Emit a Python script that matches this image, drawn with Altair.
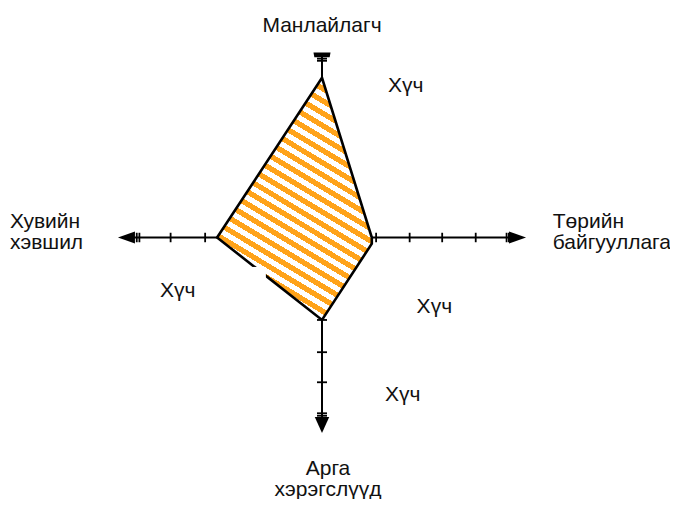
import math
import altair as alt
import pandas as pd

# ---------------- data (axis units) ----------------
# kite-shaped profile: x position, upper edge, lower edge
poly_x = [-3.16, 0.0, 1.5]
poly_upper = [0.0, 5.15, 0.0]
poly_lower = [0.0, -2.66, -0.2]

# axis line extents
h_axis = [-5.89, 5.89]
v_axis = [5.89, -6.05]

# tick positions
x_ticks = [-5.58, -5.50, -4.56, -3.52, 1.63, 2.64, 3.62, 4.63, 5.56, 5.63]
y_ticks = [5.77, 5.70, -2.66, -3.70, -4.67, -5.67, -5.75]

# arrow heads
arrow_kind = ["left", "right", "down", "cap"]
arrow_x = [-5.89, 5.89, 0.0, 0.0]
arrow_y = [0.0, 0.0, -6.05, 5.89]

# white patch over the lower-left edge
mask_x = [-2.6, -1.69]
mask_y = [-0.95, -1.4]

# labels
center_text = ["Манлайлагч", "Арга", "хэрэгслүүд"]
center_x = [0.0, 0.18, 0.18]
center_y = [6.64, -7.65, -8.33]

left_text = ["Төрийн", "байгууллага", "Хувийн", "хэвшил", "Хүч", "Хүч", "Хүч", "Хүч"]
left_x = [6.95, 6.95, -9.40, -9.40, 1.99, -4.88, 2.85, 1.90]
left_y = [0.31, -0.37, 0.31, -0.37, 4.69, -1.92, -2.44, -5.27]

# ---------------- scales ----------------
W, H = 662, 491
PX_X, PX_Y = 33.2, 31.0
CX, CY = 314.0, 229.5  # centre of the cross inside the plot area
x_dom = [-CX / PX_X, (W - CX) / PX_X]
y_dom = [-(H - CY) / PX_Y, CY / PX_Y]
sx = alt.Scale(domain=x_dom, nice=False, zero=False)
sy = alt.Scale(domain=y_dom, nice=False, zero=False)


def X(f):
    return alt.X(f, type="quantitative", scale=sx, axis=None)


def Y(f):
    return alt.Y(f, type="quantitative", scale=sy, axis=None)


# ---------------- hatch fill as hard-stop linear gradient ----------------
bw = (max(poly_x) - min(poly_x)) * PX_X
bh = (max(poly_upper) - min(poly_lower)) * PX_Y
theta = math.radians(31)
c, s = math.cos(theta), math.sin(theta)
L = c * bh + s * bw
k = L / (bw * bh * (s * s / (bh * bh) + c * c / (bw * bw)))
gx, gy = -k * s / bh, k * c / bw
period = 10.6
frac = 0.5
orange, white = "#FFA31A", "#FFFFFF"
stops = []
n = int(L / period) + 2
for i in range(n):
    a = min(i * period / L, 1.0)
    b = min((i + frac) * period / L, 1.0)
    e = min((i + 1) * period / L, 1.0)
    stops += [
        alt.GradientStop(color=orange, offset=a),
        alt.GradientStop(color=orange, offset=b),
        alt.GradientStop(color=white, offset=b),
        alt.GradientStop(color=white, offset=e),
    ]
hatch = alt.LinearGradient(
    gradient="linear", stops=stops, x1=1, y1=0, x2=1 + gx, y2=gy
)

# ---------------- layers ----------------
axes_df = pd.DataFrame(
    {
        "x": [h_axis[0], 0.0],
        "x2": [h_axis[1], 0.0],
        "y": [0.0, v_axis[0]],
        "y2": [0.0, v_axis[1]],
    }
)
axes = alt.Chart(axes_df).mark_rule(color="black", strokeWidth=2).encode(
    x=X("x"), x2="x2", y=Y("y"), y2="y2"
)

poly_df = pd.DataFrame({"x": poly_x, "y": poly_upper, "y2": poly_lower})
poly = alt.Chart(poly_df).mark_area(
    orient="vertical", fill=hatch, stroke="black", strokeWidth=2.6,
    strokeJoin="miter", opacity=1
).encode(x=X("x"), y=Y("y"), y2="y2")

xt_df = pd.DataFrame({"x": x_ticks, "y": [0.0] * len(x_ticks)})
xt = alt.Chart(xt_df).mark_point(
    shape="M0,-1L0,1", size=90, filled=False, stroke="black",
    strokeWidth=1.8, opacity=1
).encode(x=X("x"), y=Y("y"))

yt_df = pd.DataFrame({"x": [0.0] * len(y_ticks), "y": y_ticks})
yt = alt.Chart(yt_df).mark_point(
    shape="M-1,0L1,0", size=100, filled=False, stroke="black",
    strokeWidth=1.8, opacity=1
).encode(x=X("x"), y=Y("y"))

mask_df = pd.DataFrame(
    {"x": [mask_x[0]], "x2": [mask_x[1]], "y": [mask_y[0]], "y2": [mask_y[1]]}
)
mask = alt.Chart(mask_df).mark_rect(fill="white", opacity=1).encode(
    x=X("x"), x2="x2", y=Y("y"), y2="y2"
)

arr_df = pd.DataFrame({"kind": arrow_kind, "x": arrow_x, "y": arrow_y})
arrows = alt.Chart(arr_df).mark_point(
    filled=True, fill="black", size=289, opacity=1, strokeWidth=0
).encode(
    x=X("x"),
    y=Y("y"),
    shape=alt.Shape(
        "kind:N",
        scale=alt.Scale(
            domain=["left", "right", "down", "cap"],
            range=[
                "M1,-0.7L1,0.7L-1,0Z",
                "M-1,-0.7L-1,0.7L1,0Z",
                "M-0.85,-0.95L0.85,-0.95L0,0.95Z",
                "M-1,-0.28L1,-0.28L0.9,0.28L-0.9,0.28Z",
            ],
        ),
        legend=None,
    ),
)

font = "Liberation Sans"
ct_df = pd.DataFrame({"t": center_text, "x": center_x, "y": center_y})
ctext = alt.Chart(ct_df).mark_text(
    align="center", baseline="alphabetic", font=font, fontSize=21, color="#111111"
).encode(x=X("x"), y=Y("y"), text="t:N")

lt_df = pd.DataFrame({"t": left_text, "x": left_x, "y": left_y})
ltext = alt.Chart(lt_df).mark_text(
    align="left", baseline="alphabetic", font=font, fontSize=21, color="#111111"
).encode(x=X("x"), y=Y("y"), text="t:N")

chart = (
    alt.layer(axes, poly, xt, yt, mask, arrows, ctext, ltext)
    .properties(width=W, height=H, autosize=alt.AutoSizeParams(type="none"), padding=0)
    .configure_view(strokeWidth=0)
)

chart.save("out.html", embed_options={"renderer": "svg", "actions": False})
